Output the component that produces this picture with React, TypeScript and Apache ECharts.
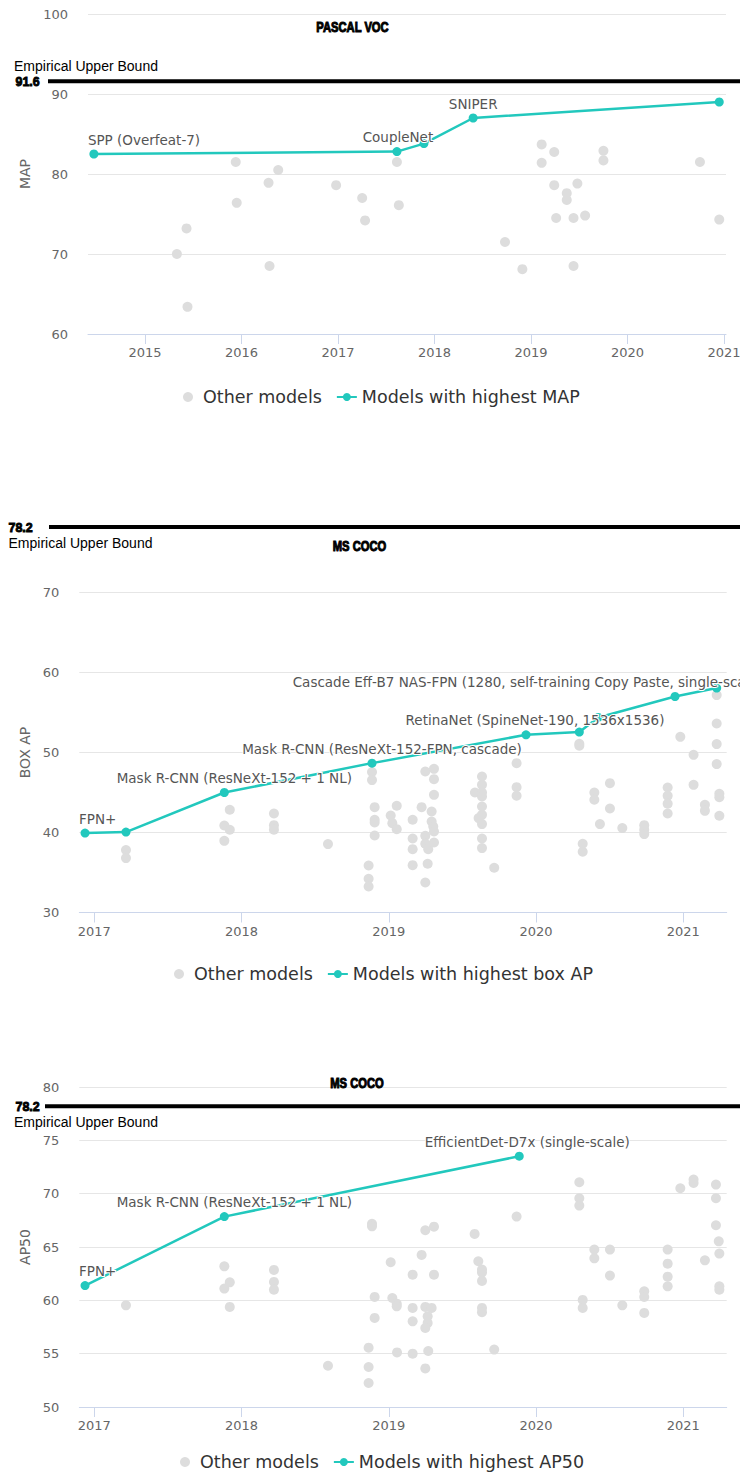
import React, { useEffect, useRef } from "react";
import * as echarts from "echarts";

// ---------- PASCAL VOC (MAP) ----------
const vocYears = [2015, 2016, 2017, 2018, 2019, 2020, 2021];
const vocOtherDates = [
  2015.33, 2015.43, 2015.44, 2015.94, 2015.95, 2016.28, 2016.29, 2016.38, 2016.98, 2017.25,
  2017.28, 2017.61, 2017.63, 2018.73, 2018.91, 2019.11, 2019.11, 2019.24, 2019.24, 2019.26,
  2019.37, 2019.37, 2019.48, 2019.44, 2019.44, 2019.56, 2019.75, 2019.75, 2020.75, 2020.95,
];
const vocOtherMap = [
  70.0, 73.2, 63.4, 81.5, 76.4, 78.9, 68.5, 80.5, 78.6, 77.0,
  74.2, 81.5, 76.1, 71.5, 68.1, 83.7, 81.4, 82.75, 78.6, 74.5,
  77.6, 76.75, 78.8, 74.5, 68.5, 74.8, 82.9, 81.7, 81.5, 74.3,
];
const vocSotaDates = [2014.47, 2017.61, 2017.89, 2018.4, 2020.95];
const vocSotaMap = [82.5, 82.8, 83.8, 87.0, 89.0];
const vocSotaNames = ["SPP (Overfeat-7)", "CoupleNet", "", "SNIPER", ""];
const vocUpperBound = 91.6;

// ---------- MS COCO (box AP) ----------
const cocoYears = [2017, 2018, 2019, 2020, 2021];
const boxOtherDates = [
  2017.215, 2017.215, 2017.92, 2017.883, 2017.92, 2017.883, 2018.22, 2018.22, 2018.22, 2018.587,
  2018.886, 2018.886, 2018.904, 2018.904, 2018.904, 2018.904, 2018.863, 2018.863, 2018.863, 2019.013,
  2019.024, 2019.054, 2019.054, 2019.162, 2019.162, 2019.162, 2019.162, 2019.223, 2019.248, 2019.248,
  2019.248, 2019.268, 2019.264, 2019.248, 2019.291, 2019.291, 2019.302, 2019.307, 2019.307, 2019.307,
  2019.307, 2019.307, 2019.633, 2019.633, 2019.585, 2019.633, 2019.633, 2019.633, 2019.633, 2019.61,
  2019.633, 2019.633, 2019.633, 2019.716, 2019.868, 2019.868, 2019.868, 2020.294, 2020.294, 2020.317,
  2020.317, 2020.396, 2020.396, 2020.434, 2020.502, 2020.502, 2020.586, 2020.735, 2020.735, 2020.735,
  2020.894, 2020.894, 2020.894, 2020.894, 2020.98, 2021.07, 2021.07, 2021.147, 2021.147, 2021.227,
  2021.227, 2021.227, 2021.227, 2021.245, 2021.245, 2021.245,
];
const boxOtherAp = [
  37.8, 36.8, 42.84, 40.88, 40.34, 38.96, 42.38, 40.92, 40.34, 38.55,
  47.55, 46.55, 43.17, 41.59, 41.25, 39.63, 35.88, 34.21, 33.25, 42.13,
  41.17, 40.42, 43.34, 41.59, 39.25, 37.92, 35.92, 43.17, 47.63, 39.59,
  38.59, 37.92, 36.09, 33.75, 42.63, 41.38, 40.75, 40.13, 38.75, 47.96,
  46.67, 44.71, 47.0, 45.96, 45.0, 45.0, 44.5, 43.25, 42.21, 41.8,
  41.05, 39.25, 38.05, 35.59, 48.67, 45.67, 44.59, 51.09, 50.84, 38.59,
  37.59, 45.0, 44.09, 41.05, 46.17, 43.0, 40.55, 40.92, 40.34, 39.8,
  45.63, 44.59, 43.59, 42.38, 51.96, 49.71, 45.96, 43.46, 42.71, 57.18,
  53.63, 51.05, 48.55, 44.84, 44.42, 42.09,
];
const boxSotaDates = [2016.937, 2017.215, 2017.883, 2018.886, 2019.932, 2020.294, 2020.423, 2020.944, 2021.227];
const boxSotaAp = [39.93, 40.05, 45.0, 48.67, 52.21, 52.55, 54.38, 57.0, 58.05];
const boxSotaNames = [
  "FPN+",
  "",
  "Mask R-CNN (ResNeXt-152 + 1 NL)",
  "Mask R-CNN (ResNeXt-152-FPN, cascade)",
  "RetinaNet (SpineNet-190, 1536x1536)",
  "",
  "",
  "",
  "Cascade Eff-B7 NAS-FPN (1280, self-training Copy Paste, single-scale)",
];

// ---------- MS COCO (AP50) ----------
const ap50OtherDates = [
  2017.215, 2017.883, 2017.92, 2017.883, 2017.92, 2018.22, 2018.22, 2018.22, 2018.587, 2018.886,
  2018.886, 2018.904, 2018.904, 2018.863, 2018.863, 2018.863, 2019.013, 2019.024, 2019.054, 2019.054,
  2019.056, 2019.162, 2019.162, 2019.162, 2019.162, 2019.223, 2019.248, 2019.307, 2019.307, 2019.248,
  2019.291, 2019.264, 2019.264, 2019.248, 2019.268, 2019.248, 2019.583, 2019.608, 2019.633, 2019.633,
  2019.633, 2019.633, 2019.633, 2019.716, 2019.868, 2020.294, 2020.294, 2020.294, 2020.317, 2020.317,
  2020.396, 2020.396, 2020.502, 2020.502, 2020.586, 2020.735, 2020.735, 2020.735, 2020.894, 2020.894,
  2020.894, 2020.894, 2020.98, 2021.07, 2021.07, 2021.147, 2021.222, 2021.222, 2021.222, 2021.241,
  2021.245, 2021.245, 2021.245,
];
const ap50OtherValues = [
  59.53, 63.19, 61.69, 61.1, 59.38, 62.85, 61.73, 61.0, 53.87, 67.17,
  66.94, 60.32, 58.35, 55.56, 53.75, 52.25, 63.57, 60.22, 59.69, 59.44,
  55.12, 62.41, 59.29, 58.03, 55.0, 64.26, 66.57, 66.91, 62.41, 59.38,
  59.29, 58.5, 57.88, 57.41, 55.25, 53.62, 66.23, 63.66, 62.88, 62.6,
  61.82, 59.29, 58.88, 55.38, 67.85, 71.07, 69.57, 68.88, 60.04, 59.29,
  64.76, 63.94, 64.76, 62.32, 59.53, 60.85, 60.32, 58.82, 64.76, 63.44,
  62.22, 61.31, 70.51, 71.32, 71.01, 63.75, 70.85, 69.57, 67.04, 65.53,
  64.38, 61.31, 61.0,
];
const ap50SotaDates = [2016.937, 2017.883, 2019.886];
const ap50SotaValues = [61.38, 67.85, 73.51];
const ap50SotaNames = ["FPN+", "Mask R-CNN (ResNeXt-152 + 1 NL)", "EfficientDet-D7x (single-scale)"];
const cocoUpperBound = 78.2;

// ---------- styling ----------
const TEAL = "#22c8bd";
const DOT = "#dddddd";
const FONT = "DejaVu Sans";

// label placement tweaks for the annotated points
const labelTweaks: Record<string, { offset: number[]; align?: string }> = {
  "SPP (Overfeat-7)": { offset: [-6, 0], align: "left" },
  CoupleNet: { offset: [1, 0] },
  SNIPER: { offset: [0, 0] },
  "FPN+": { offset: [-6, 0], align: "left" },
  "Mask R-CNN (ResNeXt-152 + 1 NL)": { offset: [10, 0] },
  "Mask R-CNN (ResNeXt-152-FPN, cascade)": { offset: [10, 0] },
  "RetinaNet (SpineNet-190, 1536x1536)": { offset: [9, 0] },
  "EfficientDet-D7x (single-scale)": { offset: [8, 0] },
  "Cascade Eff-B7 NAS-FPN (1280, self-training Copy Paste, single-scale)": { offset: [-424, 8], align: "left" },
};

const panels = [
  {
    grid: { left: 88, right: 14, top: 14, height: 320 },
    xMin: 2014.409, xMax: 2021.02, years: vocYears,
    yMin: 60, yMax: 100, yStep: 10, yName: "MAP", nameGap: 53,
    otherDates: vocOtherDates, otherValues: vocOtherMap,
    sotaDates: vocSotaDates, sotaValues: vocSotaMap, sotaNames: vocSotaNames,
    lineName: "Models with highest MAP",
    legend: { left: 178, top: 383 },
    bound: vocUpperBound, boundLineX: 48, boundValueX: 15.5, boundTextX: 14, boundTextDy: -15,
    title: "PASCAL VOC", titleX: 352.5, titleY: 27.5,
  },
  {
    grid: { left: 79.3, right: 13.3, top: 592.5, height: 320 },
    xMin: 2016.898, xMax: 2021.295, years: cocoYears,
    yMin: 30, yMax: 70, yStep: 10, yName: "BOX AP", nameGap: 45,
    otherDates: boxOtherDates, otherValues: boxOtherAp,
    sotaDates: boxSotaDates, sotaValues: boxSotaAp, sotaNames: boxSotaNames,
    lineName: "Models with highest box AP",
    legend: { left: 169, top: 960 },
    bound: cocoUpperBound, boundLineX: 49, boundValueX: 8.5, boundTextX: 8.5, boundTextDy: 16,
    title: "MS COCO", titleX: 359.5, titleY: 546.5,
  },
  {
    grid: { left: 79.3, right: 13.3, top: 1087, height: 320 },
    xMin: 2016.898, xMax: 2021.295, years: cocoYears,
    yMin: 50, yMax: 80, yStep: 5, yName: "AP50", nameGap: 45,
    otherDates: ap50OtherDates, otherValues: ap50OtherValues,
    sotaDates: ap50SotaDates, sotaValues: ap50SotaValues, sotaNames: ap50SotaNames,
    lineName: "Models with highest AP50",
    legend: { left: 175, top: 1448 },
    bound: cocoUpperBound, boundLineX: 45, boundValueX: 15.5, boundTextX: 14, boundTextDy: 16,
    title: "MS COCO", titleX: 357, titleY: 1084,
  },
];

function buildOption() {
  return {
    animation: false,
    textStyle: { fontFamily: FONT },
    grid: panels.map((p) => ({ ...p.grid, outerBoundsMode: "none", containLabel: false })),
    xAxis: panels.map((p, i) => ({
      type: "value",
      gridIndex: i,
      min: p.xMin,
      max: p.xMax,
      splitLine: { show: false },
      axisLine: { show: true, onZero: false, lineStyle: { color: "#ccd6eb", width: 1 } },
      axisTick: { show: true, length: 10, lineStyle: { color: "#ccd6eb" }, customValues: p.years },
      axisLabel: {
        customValues: p.years,
        formatter: (v: number) => String(Math.round(v)),
        color: "#666",
        fontSize: 13,
        margin: 12,
        fontFamily: FONT,
      },
    })),
    yAxis: panels.map((p, i) => ({
      type: "value",
      gridIndex: i,
      min: p.yMin,
      max: p.yMax,
      interval: p.yStep,
      axisLine: { show: false },
      axisTick: { show: false },
      splitLine: { show: true, lineStyle: { color: "#e6e6e6", width: 1 } },
      axisLabel: { color: "#666", fontSize: 13, margin: 20, fontFamily: FONT },
      name: p.yName,
      nameLocation: "middle",
      nameGap: p.nameGap,
      nameTextStyle: { color: "#666", fontSize: 14, fontFamily: FONT },
    })),
    legend: panels.map((p) => ({
      left: p.legend.left,
      top: p.legend.top,
      data: ["Other models", p.lineName],
      itemWidth: 20,
      itemHeight: 10,
      itemGap: 14,
      selectedMode: false,
      textStyle: { fontSize: 17.5, color: "#333", fontFamily: FONT },
    })),
    series: panels.flatMap((p, i) => [
      {
        type: "scatter",
        name: "Other models",
        xAxisIndex: i,
        yAxisIndex: i,
        symbol: "circle",
        symbolSize: 10,
        itemStyle: { color: DOT, opacity: 1 },
        z: 2,
        data: p.otherDates.map((d, k) => [d, p.otherValues[k]]),
      },
      {
        type: "line",
        name: p.lineName,
        xAxisIndex: i,
        yAxisIndex: i,
        symbol: "circle",
        symbolSize: 9,
        showAllSymbol: true,
        clip: false,
        lineStyle: { color: TEAL, width: 2.5 },
        itemStyle: { color: TEAL },
        z: 3,
        label: {
          show: true,
          position: "top",
          distance: 3,
          formatter: "{b}",
          fontSize: 13.5,
          fontFamily: FONT,
          color: "#555",
          textBorderColor: "#fff",
          textBorderWidth: 2,
        },
        data: p.sotaDates.map((d, k) => {
          const name = p.sotaNames[k];
          const tweak = labelTweaks[name];
          return {
            name,
            value: [d, p.sotaValues[k]],
            label: tweak ? { offset: tweak.offset, ...(tweak.align ? { align: tweak.align } : {}) } : undefined,
          };
        }),
      },
    ]),
  };
}

function buildOverlay(chart: echarts.ECharts) {
  const els: any[] = [];
  panels.forEach((p, i) => {
    const y = chart.convertToPixel({ yAxisIndex: i } as any, p.bound) as number;
    els.push({
      type: "line",
      silent: true,
      shape: { x1: p.boundLineX, y1: y, x2: 740, y2: y },
      style: { stroke: "#000", lineWidth: 4 },
      z: 10,
    });
    els.push({
      type: "text",
      x: p.boundValueX,
      y,
      scaleX: 0.92,
      silent: true,
      style: {
        text: String(p.bound),
        fontFamily: "Liberation Sans",
        fontWeight: "bold",
        fontSize: 13.5,
        fill: "#000",
        stroke: "#000",
        lineWidth: 0.9,
        align: "left",
        verticalAlign: "middle",
      },
      z: 10,
    });
    els.push({
      type: "text",
      x: p.boundTextX,
      y: y + p.boundTextDy,
      silent: true,
      style: {
        text: "Empirical Upper Bound",
        fontFamily: "Liberation Sans",
        fontSize: 14,
        fill: "#000",
        align: "left",
        verticalAlign: "middle",
      },
      z: 10,
    });
    els.push({
      type: "text",
      x: p.titleX,
      y: p.titleY,
      scaleX: 0.8,
      silent: true,
      style: {
        text: p.title,
        fontFamily: "Liberation Sans",
        fontWeight: "bold",
        fontSize: 14,
        fill: "#000",
        stroke: "#000",
        lineWidth: 1,
        align: "center",
        verticalAlign: "middle",
      },
      z: 10,
    });
  });
  return els;
}

export default function App() {
  const ref = useRef<HTMLDivElement>(null);
  useEffect(() => {
    if (!ref.current) return;
    const chart = echarts.init(ref.current, null, { renderer: "svg" });
    chart.setOption(buildOption() as any);
    chart.setOption({ graphic: buildOverlay(chart) } as any);
    return () => chart.dispose();
  }, []);
  return (
    <div
      ref={ref}
      style={{ position: "absolute", left: 0, top: 0, width: 740, height: 1479, background: "#fff" }}
    />
  );
}
